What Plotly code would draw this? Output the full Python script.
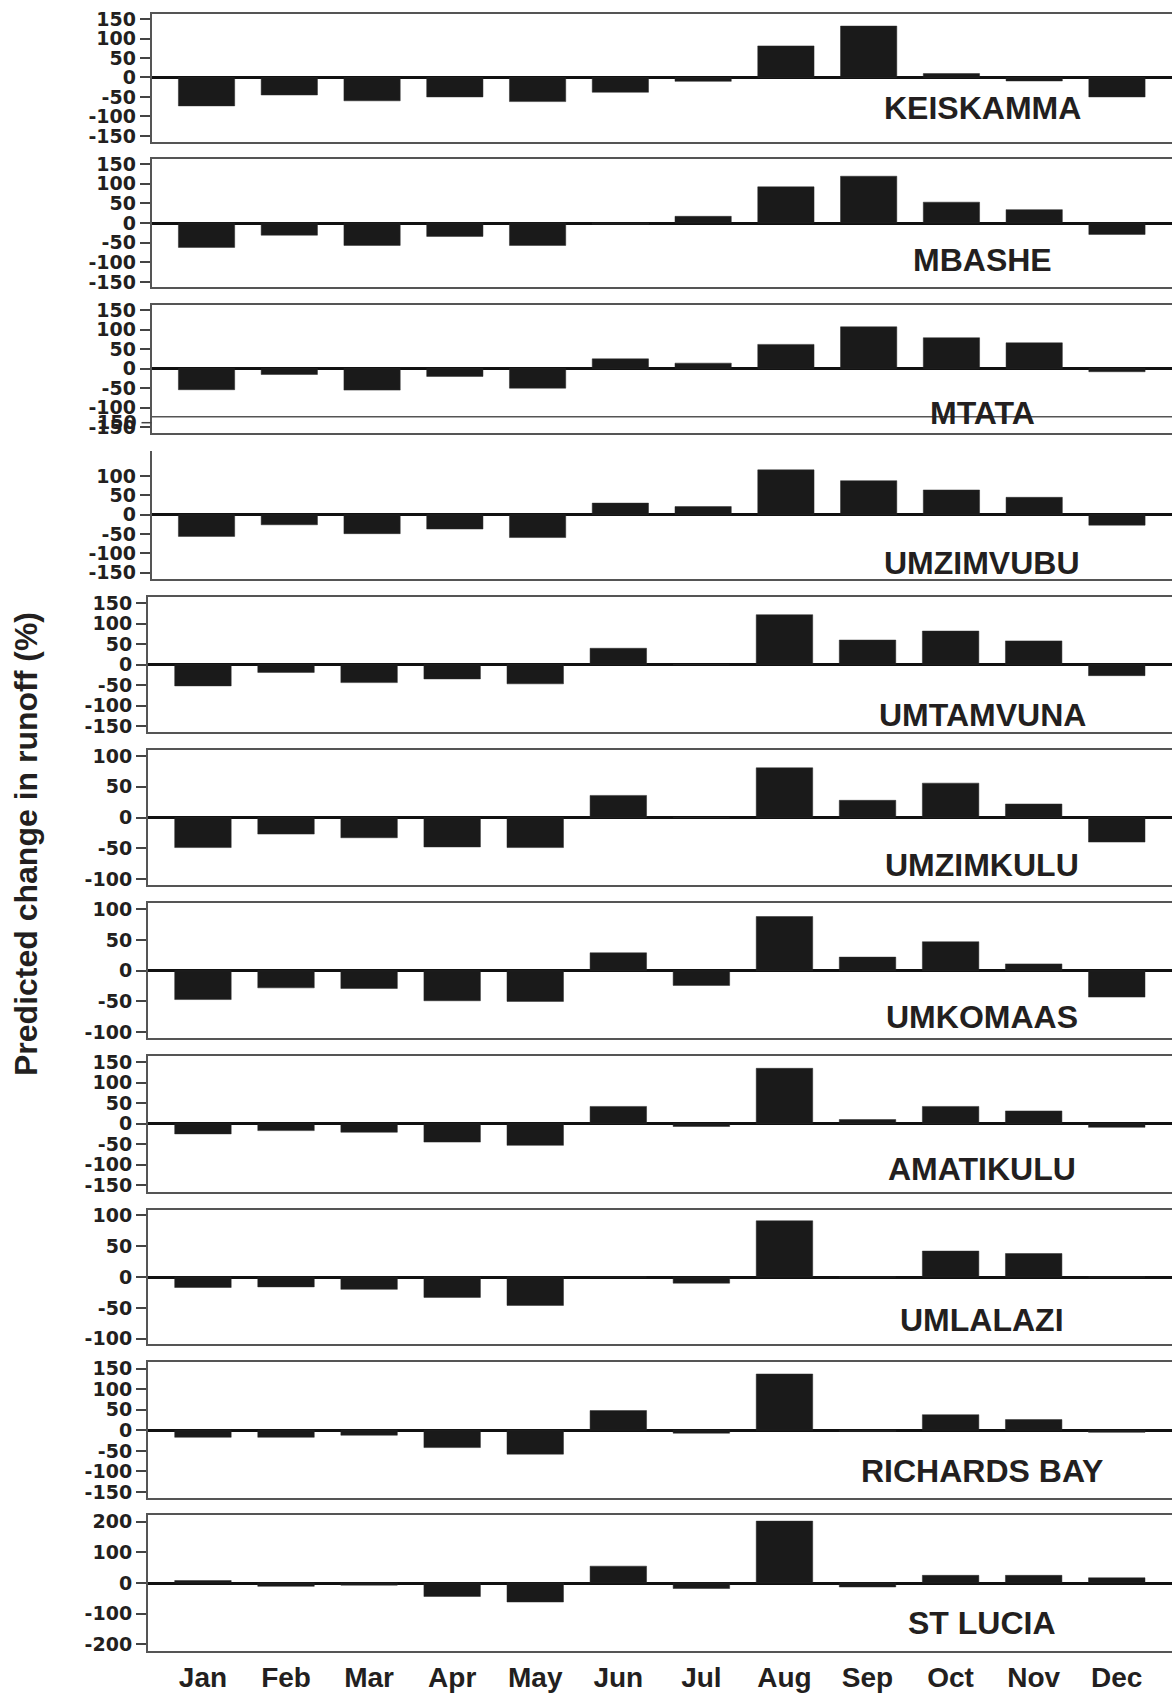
import plotly.graph_objects as go

# ---------------- data ----------------
months = ["Jan", "Feb", "Mar", "Apr", "May", "Jun", "Jul", "Aug", "Sep", "Oct", "Nov", "Dec"]
catchments = ["KEISKAMMA", "MBASHE", "MTATA", "UMZIMVUBU", "UMTAMVUNA", "UMZIMKULU",
              "UMKOMAAS", "AMATIKULU", "UMLALAZI", "RICHARDS BAY", "ST LUCIA"]

keiskamma = [-73, -45, -60, -50, -62, -38, -10, 81, 132, 10, -9, -50]
mbashe = [-62, -31, -57, -34, -57, -3, 17, 92, 119, 53, 34, -29]
mtata = [-54, -15, -55, -20, -50, 25, 14, 62, 107, 79, 66, -8]
umzimvubu = [-56, -26, -49, -37, -59, 30, 21, 116, 88, 64, 45, -27]
umtamvuna = [-52, -19, -44, -35, -47, 40, 0, 122, 60, 82, 58, -27]
umzimkulu = [-49, -27, -33, -48, -49, 36, 0, 81, 28, 56, 22, -40]
umkomaas = [-47, -28, -29, -49, -50, 29, -24, 88, 22, 47, 11, -43]
amatikulu = [-25, -17, -21, -45, -53, 42, -7, 135, 10, 42, 31, -9]
umlalazi = [-17, -16, -20, -33, -46, 0, -10, 91, 0, 42, 38, 0]
richards_bay = [-17, -17, -12, -42, -58, 48, -7, 137, -3, 38, 26, -5]
st_lucia = [8, -11, -7, -44, -62, 55, -18, 202, -13, 25, 25, 17]

ticks_150 = [-150, -100, -50, 0, 50, 100, 150]
ticks_100_150 = [-150, -100, -50, 0, 50, 100]
ticks_100 = [-100, -50, 0, 50, 100]
ticks_200 = [-200, -100, 0, 100, 200]

y_title = "Predicted change in runoff (%)"

series = [keiskamma, mbashe, mtata, umzimvubu, umtamvuna, umzimkulu,
          umkomaas, amatikulu, umlalazi, richards_bay, st_lucia]
tick_sets = [ticks_150, ticks_150, ticks_150, ticks_100_150, ticks_150, ticks_100,
             ticks_100, ticks_150, ticks_100, ticks_150, ticks_200]

# ---------------- layout (pixels) ----------------
W, H = 1173, 1693
tops = [14, 159.3, 305.3, 451.3, 596.7, 750, 903, 1056, 1209.7, 1362.3, 1515.3]
bottoms = [141.7, 287.3, 433.3, 579.3, 731.7, 885, 1038.3, 1191.7, 1344.3, 1497.7, 1650.7]
yranges = [[-165, 163], [-163.5, 162], [-165.5, 162], [-167, 164], [-164, 166], [-110, 110],
           [-110, 110], [-166, 165], [-109, 109], [-164, 165.5], [-221, 221]]
lefts = [151.5] * 4 + [147.7] * 7
right = 1172
label_y = [108, 260, 413, 562.6, 715, 865, 1017, 1168.7, 1320, 1471, 1623]
label_x = 982

INK = "#231f20"
BAR = "#1a1a1a"
FRAME = "#555555"
TICKFONT = dict(family="DejaVu Sans", size=19, color=INK, weight="bold")

fig = go.Figure()
layout = dict(
    width=W, height=H, autosize=False,
    margin=dict(l=0, r=0, t=0, b=0, pad=0),
    paper_bgcolor="white", plot_bgcolor="white",
    showlegend=False,
)

annotations = []
shapes = []
for i in range(11):
    n = i + 1
    fig.add_trace(go.Bar(
        x=months, y=series[i],
        xaxis=f"x{n}", yaxis=f"y{n}",
        marker=dict(color=BAR, line=dict(color="#2a2a2a", width=0.5)),
        width=0.68,
    ))
    last = (i == 10)
    layout[f"xaxis{n}"] = dict(
        domain=[lefts[i] / W, right / W], anchor=f"y{n}",
        type="category", categoryorder="array", categoryarray=months,
        range=[-0.665, 11.665], automargin=False,
        showline=True, linecolor=FRAME, linewidth=1.5,
        mirror=(i != 3),
        showgrid=False, zeroline=False, ticks="",
        showticklabels=last,
        tickfont=dict(family="Liberation Sans, Arial", size=28, color=INK, weight="bold"),
        ticklabelstandoff=1,
    )
    tv = tick_sets[i]
    layout[f"yaxis{n}"] = dict(
        domain=[1 - bottoms[i] / H, 1 - tops[i] / H], anchor=f"x{n}",
        range=yranges[i], automargin=False,
        tickmode="array", tickvals=tv, ticktext=[str(v) for v in tv],
        ticks="outside", ticklen=10, tickwidth=1.5, tickcolor="#444444",
        tickfont=TICKFONT,
        showline=True, linecolor=FRAME, linewidth=1.5, mirror=False,
        showgrid=False,
        zeroline=True, zerolinecolor="#111111", zerolinewidth=2.5,
    )
    annotations.append(dict(
        x=label_x / W, y=1 - label_y[i] / H, xref="paper", yref="paper",
        text=catchments[i], showarrow=False, xanchor="center", yanchor="middle",
        font=dict(family="Liberation Sans, Arial", size=32, color=INK, weight="bold"),
    ))

# stray line and overlapping label seen in the MTATA panel of the original
shapes.append(dict(type="line", xref="x3 domain", yref="y3", x0=0, x1=1, y0=-123, y1=-123,
                   line=dict(color=FRAME, width=1.5)))
shapes.append(dict(type="line", xref="paper", yref="paper",
                   x0=141.5 / W, x1=151.5 / W, y0=1 - 422.7 / H, y1=1 - 422.7 / H,
                   line=dict(color="#444444", width=1.5)))
annotations.append(dict(
    x=139 / W, y=1 - 421.7 / H, xref="paper", yref="paper", text="150", showarrow=False,
    xanchor="right", yanchor="middle", font=TICKFONT,
))

# y-axis title
annotations.append(dict(
    x=26 / W, y=1 - 844 / H, xref="paper", yref="paper", text=y_title, textangle=-90,
    showarrow=False, xanchor="center", yanchor="middle",
    font=dict(family="Liberation Sans, Arial", size=32, color=INK, weight="bold"),
))

layout["annotations"] = annotations
layout["shapes"] = shapes
fig.update_layout(**layout)

fig.write_html("out.html",
               config={"displayModeBar": False},
               post_script="document.body.style.margin='0';document.body.style.overflow='hidden';")
